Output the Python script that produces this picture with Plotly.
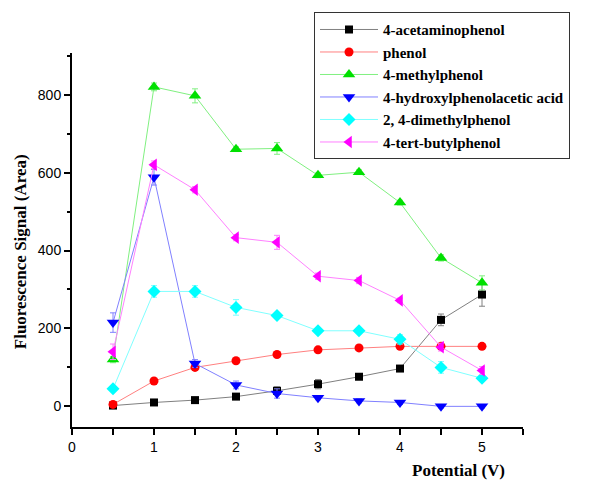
import plotly.graph_objects as go

potential = [0.5, 1.0, 1.5, 2.0, 2.5, 3.0, 3.5, 4.0, 4.5, 5.0]

names = ["4-acetaminophenol", "phenol", "4-methylphenol",
         "4-hydroxylphenolacetic acid", "2, 4-dimethylphenol", "4-tert-butylphenol"]

acetaminophenol = [2, 10, 16, 25, 40, 57, 76, 97, 222, 287]
phenol = [5, 65, 100, 117, 133, 145, 150, 154, 154, 154]
methylphenol = [120, 820, 797, 660, 662, 593, 601, 523, 381, 317]
hydroxyphenylacetic = [215, 588, 110, 55, 33, 22, 14, 10, 0, 0]
dimethylphenol = [45, 295, 295, 254, 233, 194, 194, 172, 100, 72]
tertbutylphenol = [140, 620, 556, 433, 421, 334, 323, 272, 152, 92]

err_acetaminophenol = [3, 3, 3, 4, 10, 12, 5, 5, 15, 30]
err_phenol = [4, 5, 5, 5, 5, 5, 5, 5, 5, 5]
err_methylphenol = [8, 10, 18, 6, 15, 6, 6, 6, 8, 18]
err_hydroxyphenylacetic = [25, 20, 10, 10, 12, 5, 5, 5, 4, 4]
err_dimethylphenol = [5, 15, 15, 20, 5, 5, 5, 12, 15, 6]
err_tertbutylphenol = [20, 10, 8, 8, 18, 8, 8, 6, 10, 10]

series = [acetaminophenol, phenol, methylphenol, hydroxyphenylacetic, dimethylphenol, tertbutylphenol]
errors = [err_acetaminophenol, err_phenol, err_methylphenol, err_hydroxyphenylacetic,
          err_dimethylphenol, err_tertbutylphenol]

marker_colors = ["#000000", "#ff0000", "#00e000", "#0000ff", "#00ffff", "#ff00ff"]
line_colors = ["#808080", "#ff8080", "#80f080", "#8080ff", "#80ffff", "#ff80ff"]
symbols = ["square", "circle", "triangle-up", "triangle-down", "diamond", "triangle-left"]
sizes = [8, 9, 11, 11, 10, 11]

fig = go.Figure()
for nm, ys, er, mc, lc, sym, sz in zip(names, series, errors, marker_colors, line_colors, symbols, sizes):
    fig.add_trace(go.Scatter(
        x=potential, y=ys, name=nm, mode="lines+markers",
        line=dict(color=lc, width=1),
        marker=dict(color=mc, symbol=sym, size=sz, line=dict(width=0)),
        error_y=dict(type="data", array=er, visible=True, color=lc, thickness=1, width=3),
    ))

fig.update_layout(
    width=581, height=475,
    margin=dict(l=64, r=66, t=45, b=56, autoexpand=False),
    paper_bgcolor="white", plot_bgcolor="white",
    showlegend=True,
    legend=dict(
        x=0.5366, y=1.109, xanchor="left", yanchor="top",
        bgcolor="white", bordercolor="#333333", borderwidth=1,
        font=dict(family="Liberation Serif", size=15, color="black", weight="bold"),
        itemwidth=58, tracegroupgap=0,
    ),
    xaxis=dict(
        range=[0, 5.5], dtick=1, tick0=0, showgrid=False, zeroline=False,
        showline=True, linecolor="black", linewidth=2,
        ticks="outside", ticklen=6, tickwidth=2, tickcolor="black",
        tickfont=dict(family="Liberation Sans", size=14, color="black"),
        minor=dict(dtick=0.5, ticks="outside", ticklen=6, tickwidth=2, tickcolor="black"),
    ),
    yaxis=dict(
        range=[-53, 907], dtick=200, tick0=0, showgrid=False, zeroline=False,
        showline=True, linecolor="black", linewidth=2,
        ticks="outside", ticklen=6, tickwidth=2, tickcolor="black",
        tickfont=dict(family="Liberation Sans", size=14, color="black"),
        minor=dict(dtick=100, ticks="outside", ticklen=3, tickwidth=2, tickcolor="black"),
    ),
    annotations=[
        dict(text="Fluorescence Signal (Area)", xref="paper", yref="paper",
             x=-0.1153, y=0.47, xanchor="center", yanchor="middle", textangle=-90,
             showarrow=False,
             font=dict(family="Liberation Serif", size=17, color="black", weight="bold")),
        dict(text="Potential (V)", xref="paper", yref="paper",
             x=0.858, y=-0.147, xanchor="center", yanchor="bottom",
             showarrow=False,
             font=dict(family="Liberation Serif", size=17, color="black", weight="bold")),
    ],
)

fig.write_html("out.html")
